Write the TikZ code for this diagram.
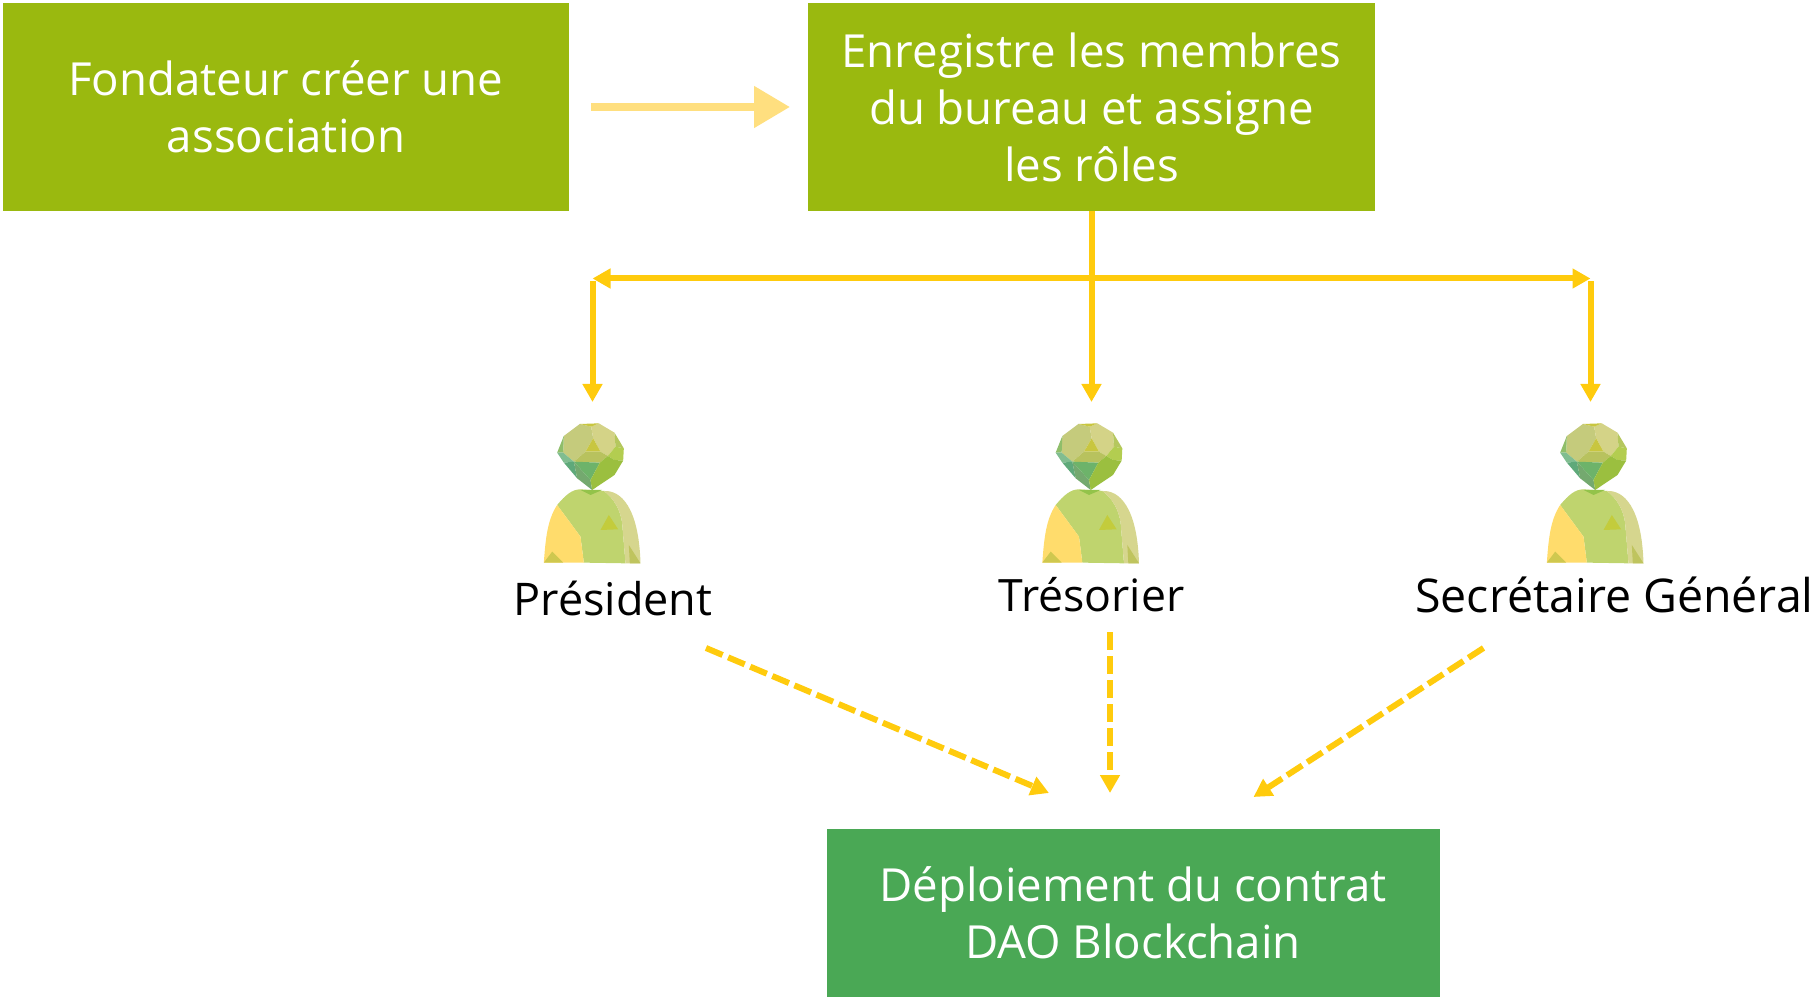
\documentclass[tikz,border=0pt]{standalone}
\usepackage{fontspec}
\setmainfont{Open Sans}
\usetikzlibrary{arrows.meta}
\definecolor{boxgreen}{HTML}{9AB90F}
\definecolor{boxdark}{HTML}{4AA855}
\definecolor{paleyellow}{HTML}{FFDF7F}
\definecolor{gold}{HTML}{FFCB0D}
\definecolor{bodygreen}{HTML}{BFD46E}
\definecolor{bodyyellow}{HTML}{FFDC6C}
\definecolor{bodypale}{HTML}{D6D68E}
\definecolor{triA}{HTML}{C3CC3C}
\definecolor{triB}{HTML}{CFC84F}
\definecolor{triC}{HTML}{BFC45E}
\definecolor{neck}{HTML}{93C34A}
\definecolor{headA}{HTML}{C5CB7C}
\definecolor{headB}{HTML}{D4D387}
\definecolor{headC}{HTML}{C8C640}
\definecolor{headD}{HTML}{B8C25E}
\definecolor{headE}{HTML}{B5C75E}
\definecolor{headF}{HTML}{B3CD50}
\definecolor{headG}{HTML}{8FBE6A}
\definecolor{headH}{HTML}{80BD90}
\definecolor{headI}{HTML}{5FA97A}
\definecolor{headJ}{HTML}{74A96F}
\definecolor{headK}{HTML}{6DB36A}
\definecolor{headL}{HTML}{9BBF3F}
\tikzset{
  x=1pt,y=-1pt,
  box/.style={fill=#1,text=white,inner sep=0pt,align=center,font=\fontsize{45.6}{57}\selectfont},
  person label/.style={text=black,font=\fontsize{#1}{50}\selectfont,inner sep=0pt},
  link/.style={draw=gold,line width=6pt},
  tip/.style={-{Triangle[length=18pt,width=19pt]}},
  twotip/.style={{Triangle[length=18pt,width=19pt]}-{Triangle[length=18pt,width=19pt]}},
  dashlink/.style={link,dash pattern=on 18pt off 6pt,tip},
  facet/.style={fill=#1,draw=none},
  person/.pic={
    \begin{scope}[x=0.3333pt,y=-0.3333pt]
    \fill[facet={bodygreen}] (110,285) .. controls (135,255) and (155,238) .. (180,238) -- (250,243) .. controls (280,265) and (300,300) .. (305,340) -- (315,460) -- (190,458) -- (180,380) -- cycle;
    \fill[facet={bodyyellow}] (110,285) -- (180,380) -- (190,458) -- (70,458) .. controls (75,390) and (80,330) .. (110,285) -- cycle;
    \fill[facet={bodypale}] (250,243) .. controls (300,240) and (355,290) .. (360,460) -- (315,460) -- (305,340) .. controls (300,300) and (280,265) .. (250,243) -- cycle;
    \fill[facet={triA}] (265,315) -- (293,358) -- (240,360) -- cycle;
    \fill[facet={triB}] (95,425) -- (128,458) -- (70,458) -- cycle;
    \fill[facet={triC}] (325,405) -- (360,460) -- (328,460) -- cycle;
    \fill[facet={neck}] (180,240) -- (245,240) -- (210,255) -- cycle;
    \fill[facet={headA}] (178,42) -- (212,50) -- (218,85) -- (195,125) -- (160,155) -- (128,128) -- (130,78) -- cycle;
    \fill[facet={headB}] (212,50) -- (235,40) -- (282,68) -- (285,110) -- (262,138) -- (240,125) -- (218,85) -- cycle;
    \fill[facet={headC}] (178,42) -- (235,40) -- (212,50) -- cycle;
    \fill[facet={headC}] (218,85) -- (240,125) -- (195,125) -- cycle;
    \fill[facet={headD}] (195,125) -- (240,125) -- (262,138) -- (238,158) -- (160,155) -- cycle;
    \fill[facet={headE}] (282,68) -- (310,115) -- (285,110) -- cycle;
    \fill[facet={headF}] (285,110) -- (310,115) -- (308,152) -- (282,150) -- (262,138) -- cycle;
    \fill[facet={headG}] (130,78) -- (128,128) -- (110,128) -- cycle;
    \fill[facet={headH}] (110,128) -- (128,128) -- (160,155) -- (130,158) -- cycle;
    \fill[facet={headI}] (130,158) -- (160,155) -- (170,205) -- cycle;
    \fill[facet={headJ}] (160,155) -- (210,210) -- (215,240) -- (170,205) -- cycle;
    \fill[facet={headK}] (160,155) -- (238,158) -- (210,210) -- cycle;
    \fill[facet={headL}] (238,158) -- (262,138) -- (282,150) -- (308,152) -- (282,195) -- (215,240) -- (210,210) -- cycle;
    \end{scope}
  }
}
\begin{document}
\begin{tikzpicture}
\useasboundingbox (0,0) rectangle (1816,1000);
% boxes
\node[box=boxgreen,minimum width=566pt,minimum height=208pt] (founder) at (286,107) {\raisebox{-2.5pt}{Fondateur créer une}\\\raisebox{-2.5pt}{association}};
\node[box=boxgreen,minimum width=567pt,minimum height=208pt] (register) at (1091.5,107) {\raisebox{-2.5pt}{Enregistre les membres}\\\raisebox{-2.5pt}{du bureau et assigne}\\\raisebox{-2.5pt}{les rôles}};
\node[box=boxdark,minimum width=613pt,minimum height=168pt] (deploy) at (1133,913) {\raisebox{-2.5pt}{Déploiement du contrat}\\\raisebox{-2.5pt}{DAO Blockchain}};
% people
\pic at (520.5,410) {person};
\pic at (1019,410) {person};
\pic at (1523.5,410) {person};
\node[person label=45] (president) at (613,598.5) {Président};
\node[person label=44.6] (tresorier) at (1091.5,594.5) {Trésorier};
\node[person label=46.5] (secretaire) at (1614.5,594.5) {Secrétaire Général};
% free ends
\coordinate (a1) at (591,107);
\coordinate (a2) at (790,107);
\coordinate (left) at (592.5,278.5);
\coordinate (right) at (1590.5,278.5);
\coordinate (leftend) at (592.5,402);
\coordinate (midend) at (1091.5,402);
\coordinate (rightend) at (1590.5,402);
\coordinate (d1s) at (706,648);
\coordinate (d1e) at (1049,793);
\coordinate (d2s) at (1110,632);
\coordinate (d2e) at (1110,793);
\coordinate (d3s) at (1483.5,648);
\coordinate (d3e) at (1253.5,797);
% connectors
\draw[paleyellow,line width=8pt,-{Triangle[length=36pt,width=40pt]}] (a1) -- (a2);
\draw[link,tip] (register.south) -- (midend);
\draw[link,twotip] (left) -- (right);
\draw[link,tip] ([yshift=-3pt]left) -- (leftend);
\draw[link,tip] ([yshift=-3pt]right) -- (rightend);
\draw[dashlink] (d1s) -- (d1e);
\draw[dashlink] (d2s) -- (d2e);
\draw[dashlink] (d3s) -- (d3e);
\end{tikzpicture}
\end{document}
